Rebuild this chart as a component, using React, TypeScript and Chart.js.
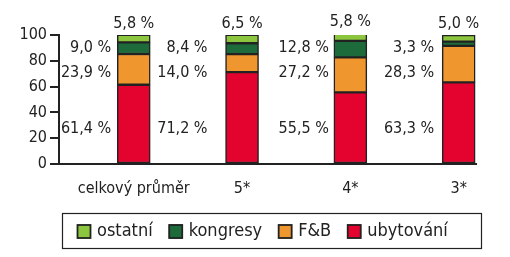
import React, { useEffect, useRef } from "react";
import { Chart, registerables } from "chart.js";

Chart.register(...registerables);

const categories = ["celkový průměr", "5*", "4*", "3*"];
const seriesNames = ["ubytování", "F&B", "kongresy", "ostatní"];
const ubytovani = [61.4, 71.2, 55.5, 63.3];
const fb = [23.9, 14.0, 27.2, 28.3];
const kongresy = [9.0, 8.4, 12.8, 3.3];
const ostatni = [5.8, 6.5, 5.8, 5.0];
const yTicks = [0, 20, 40, 60, 80, 100];

const colors = ["#E4032E", "#F0962E", "#1D6B3A", "#8CC63E"];
const INK = "#222222";
const FONT = '"DejaVu Sans Condensed", Roboto';

const fmt = (v: number) => v.toFixed(1).replace(".", ",") + " %";

export default function App() {
  const ref = useRef<HTMLCanvasElement | null>(null);

  useEffect(() => {
    document.body.style.margin = "0";
    const canvas = ref.current;
    if (!canvas) return;
    const series = [ubytovani, fb, kongresy, ostatni];

    const rowValue = [27, 71, 90];
    const labelGap = [6, 18, 5, 8];

    const valueLabels = {
      id: "valueLabels",
      afterDatasetsDraw(chart: any) {
        const ctx = chart.ctx;
        const yScale = chart.scales.y;
        ctx.save();
        ctx.fillStyle = INK;
        ctx.font = `16px ${FONT}`;
        chart.data.datasets.forEach((ds: any, d: number) => {
          const meta = chart.getDatasetMeta(d);
          meta.data.forEach((el: any, i: number) => {
            const v = ds.data[i].y;
            const text = fmt(v);
            if (d === 3) {
              ctx.textAlign = "center";
              ctx.textBaseline = "bottom";
              ctx.fillText(text, el.x, el.y - 3);
            } else {
              ctx.textAlign = "right";
              ctx.textBaseline = "middle";
              ctx.fillText(
                text,
                el.x - el.width / 2 - labelGap[i],
                yScale.getPixelForValue(rowValue[d])
              );
            }
          });
        });
        ctx.restore();
      },
    };

    const boxLegend = {
      id: "boxLegend",
      afterDraw(chart: any) {
        const ctx = chart.ctx;
        const area = chart.chartArea;
        const left = area.left + 3;
        const right = area.right + 5;
        const top = area.bottom + 49;
        const h = 35;
        ctx.save();
        ctx.strokeStyle = INK;
        ctx.lineWidth = 1.2;
        ctx.strokeRect(left + 0.5, top + 0.5, right - left, h);
        ctx.font = `18px ${FONT}`;
        ctx.textBaseline = "middle";
        ctx.textAlign = "left";
        let x = left + 15;
        const cy = top + h / 2 + 1;
        const order = [3, 2, 1, 0];
        order.forEach((d) => {
          const ds = chart.data.datasets[d];
          ctx.fillStyle = ds.backgroundColor;
          ctx.fillRect(x, cy - 7, 14, 14);
          ctx.strokeStyle = INK;
          ctx.lineWidth = 1.8;
          ctx.strokeRect(x + 0.5, cy - 6.5, 13, 13);
          ctx.fillStyle = INK;
          ctx.fillText(ds.label, x + 20, cy);
          x += 20 + ctx.measureText(ds.label).width + 16;
        });
        ctx.restore();
      },
    };

    const chart = new Chart(canvas, {
      type: "bar",
      data: {
        datasets: series.map((vals, d) => ({
          label: seriesNames[d],
          data: vals.map((v, i) => ({ x: i, y: v })),
          backgroundColor: colors[d],
          borderColor: INK,
          borderWidth: 1.5,
          borderSkipped: false,
          barThickness: 33,
        })),
      },
      options: {
        animation: false,
        responsive: false,
        devicePixelRatio: 1,
        layout: { padding: { left: 0, right: 34, top: 35, bottom: 0 } },
        plugins: {
          legend: { display: false },
          tooltip: { enabled: false },
        },
        scales: {
          x: {
            type: "linear",
            stacked: true,
            offset: false,
            bounds: "data",
            min: -0.69,
            max: 3.16,
            afterBuildTicks: (s: any) => {
              s.ticks = categories.map((_, i) => ({ value: i }));
            },
            afterFit: (s: any) => {
              s.height = 93;
            },
            grid: { display: false, drawTicks: false, offset: false },
            border: { display: true, color: INK, width: 2 },
            ticks: {
              autoSkip: false,
              maxRotation: 0,
              padding: 15,
              color: INK,
              font: { family: FONT, size: 16 },
              callback: (v: any) => categories[v as number] ?? "",
            },
          },
          y: {
            stacked: true,
            min: 0,
            max: 100,
            afterBuildTicks: (s: any) => {
              s.ticks = yTicks.map((v) => ({ value: v }));
            },
            afterFit: (s: any) => {
              s.width = 59;
            },
            grid: {
              drawOnChartArea: false,
              drawTicks: true,
              tickLength: 9,
              color: INK,
              lineWidth: 2,
            },
            border: { display: true, color: INK, width: 2 },
            ticks: {
              padding: 3,
              color: INK,
              font: { family: FONT, size: 16 },
            },
          },
        },
      },
      plugins: [valueLabels, boxLegend],
    } as any);

    return () => chart.destroy();
  }, []);

  return (
    <div style={{ width: 510, height: 257, background: "#fff" }}>
      <canvas ref={ref} width={510} height={257} />
    </div>
  );
}
